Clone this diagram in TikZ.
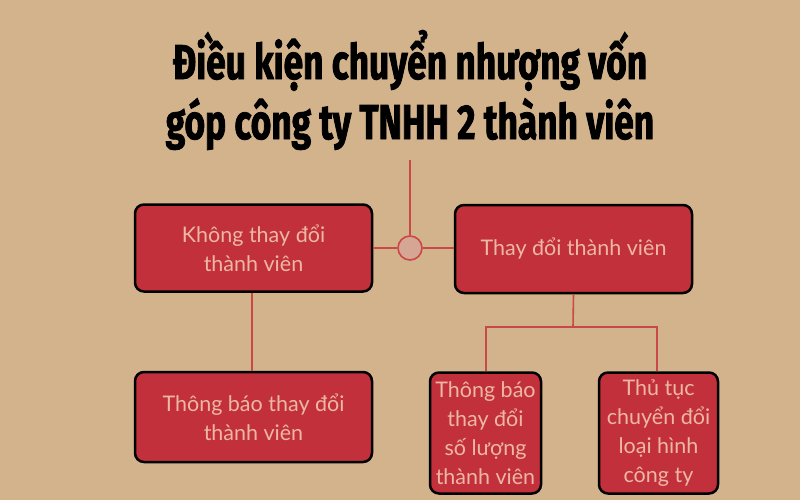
\documentclass[tikz,border=0pt]{standalone}
\usepackage{fontspec}
\newfontfamily\titlefont[FakeStretch=0.72, FakeBold=1.6]{Fira Sans}
\newfontfamily\boxfont{Lato}
\definecolor{bgtan}{HTML}{D3B38B}
\definecolor{boxred}{HTML}{C2303B}
\definecolor{boxtext}{HTML}{EDB7A6}
\definecolor{linkred}{HTML}{C94848}
\definecolor{hubfill}{HTML}{D4A693}
\begin{document}
\begin{tikzpicture}[x=1pt,y=-1pt,
    box/.style={draw=black, line width=2.5pt, fill=boxred, rounded corners=9pt,
        text=boxtext, align=center, inner sep=0pt,
        font=\boxfont\fontsize{21.5}{29}\selectfont},
    link/.style={draw=linkred, line width=1.6pt}]
        \fill[bgtan] (0,0) rectangle (800,500);
        \useasboundingbox (0,0) rectangle (800,500);
        % title
        \node[font=\titlefont\bfseries\fontsize{49}{60}\selectfont, align=center] (title) at (410,90)
            {Điều kiện chuyển nhượng vốn\\góp công ty TNHH 2 thành viên};
        % boxes
        \node[box, minimum width=237pt, minimum height=87pt] (keep) at (253.5,248) {Không thay đổi\\thành viên};
        \node[box, minimum width=237pt, minimum height=88pt] (change) at (573.5,249) {Thay đổi thành viên};
        \node[box, minimum width=237pt, minimum height=90pt] (notice) at (253.5,417) {Thông báo thay đổi\\thành viên};
        \node[box, minimum width=111pt, minimum height=121pt] (count) at (485.5,433) {Thông báo\\thay đổi\\số lượng\\thành viên};
        \node[box, minimum width=119pt, minimum height=121pt] (type) at (658.5,433) {Thủ tục\\chuyển đổi\\loại hình\\công ty};
        % connectors
        \coordinate (top) at (410,160);
        \node[circle, draw=linkred, fill=hubfill, line width=1.6pt, minimum size=24pt, inner sep=0pt] (hub) at (410,248) {};
        \draw[link] (top) -- (hub);
        \draw[link] (keep.east) -- (hub) -- (change.west |- hub);
        \draw[link] (keep.south -| 252,0) -- (notice.north -| 252,0);
        \coordinate (split) at (573,327);
        \draw[link] (change.south) -- (split);
        \draw[link] (count.north -| 486,0) |- (split) -| (type.north -| 657,0);
    \end{tikzpicture}
\end{document}
